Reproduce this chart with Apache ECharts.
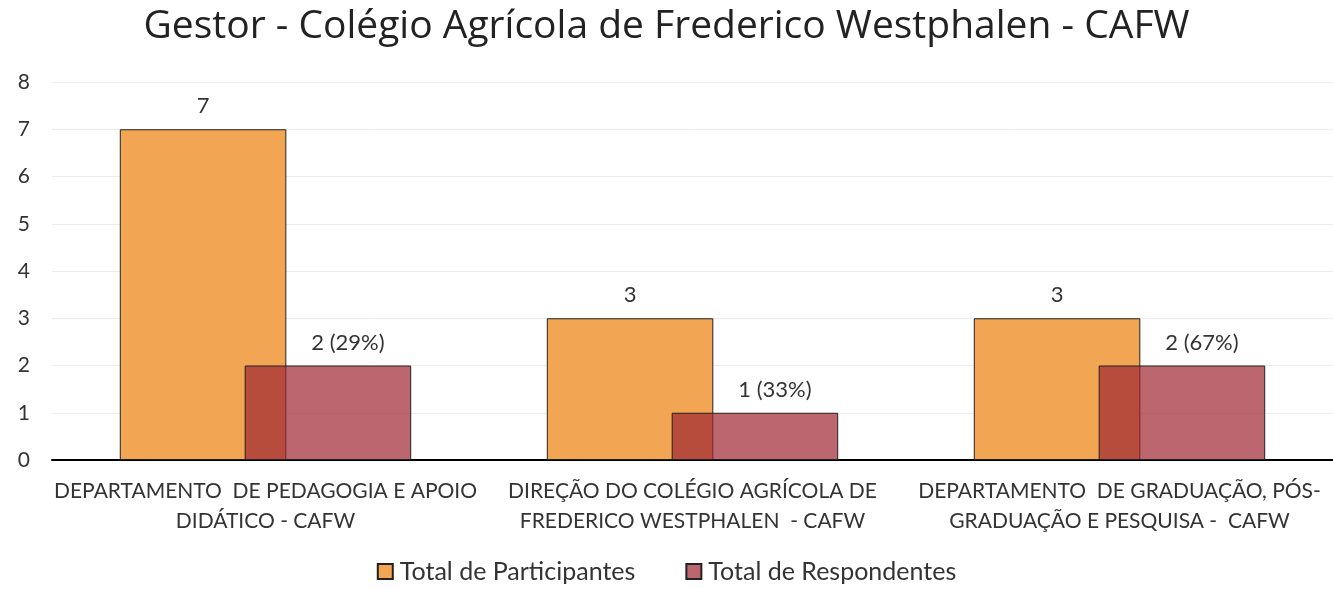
<!DOCTYPE html>
<html>
<head>
<meta charset="utf-8">
<script src="https://cdn.jsdelivr.net/npm/echarts@6/dist/echarts.min.js"></script>
<style>
html,body{margin:0;padding:0;background:#fff;}
#chart{width:1333px;height:589px;}
</style>
</head>
<body>
<div id="chart"></div>
<script>
// dados do gráfico
var categorias = [
    'DEPARTAMENTO  DE PEDAGOGIA E APOIO\nDIDÁTICO - CAFW',
    'DIREÇÃO DO COLÉGIO AGRÍCOLA DE\nFREDERICO WESTPHALEN  - CAFW',
    'DEPARTAMENTO  DE GRADUAÇÃO, PÓS-\nGRADUAÇÃO E PESQUISA -  CAFW'
];
var participantes = [7, 3, 3];
var respondentes = [2, 1, 2];
var ticksY = [0, 1, 2, 3, 4, 5, 6, 7, 8];

var fonte = 'Lato, "Open Sans", sans-serif';
var myChart = echarts.init(document.getElementById('chart'));
var option = {
    title: {
        text: 'Gestor - Colégio Agrícola de Frederico Westphalen - CAFW',
        left: 'center',
        top: 2,
        textStyle: { fontFamily: '"Open Sans", sans-serif', fontSize: 39, fontWeight: 'normal', color: '#222' }
    },
    legend: {
        bottom: 0,
        left: 'center',
        itemGap: 50,
        itemWidth: 15,
        itemHeight: 15,
        icon: 'rect',
        textStyle: { fontFamily: fonte, fontSize: 25, color: '#333', padding: [0, 0, 0, 2] },
        data: ['Total de Participantes', 'Total de Respondentes']
    },
    grid: { left: 52, right: 0, top: 82, bottom: 129 },
    xAxis: {
        type: 'category',
        data: categorias,
        axisLine: { lineStyle: { color: '#000', width: 2 } },
        axisTick: { show: false },
        axisLabel: { interval: 0, fontFamily: fonte, fontSize: 21, color: '#333', lineHeight: 30, margin: 16 }
    },
    yAxis: {
        type: 'value',
        min: ticksY[0],
        max: ticksY[ticksY.length - 1],
        interval: 1,
        axisLine: { show: false },
        axisTick: { show: false },
        axisLabel: { fontFamily: fonte, fontSize: 21, color: '#333', margin: 22 },
        splitLine: { lineStyle: { color: '#ececec', width: 1 } }
    },
    series: [
        {
            name: 'Total de Participantes',
            type: 'bar',
            data: participantes,
            barWidth: '39%',
            barGap: '-25%',
            itemStyle: { color: '#F2A552', borderColor: '#222', borderWidth: 1 },
            label: {
                show: true, position: 'top', distance: 12,
                fontFamily: fonte, fontSize: 22, color: '#333'
            }
        },
        {
            name: 'Total de Respondentes',
            type: 'bar',
            data: respondentes,
            barWidth: '39%',
            itemStyle: { color: 'rgba(159,39,51,0.7)', borderColor: '#222', borderWidth: 1 },
            label: {
                show: true, position: 'top', distance: 12, offset: [20, 0],
                fontFamily: fonte, fontSize: 22, color: '#333',
                formatter: function (p) {
                    var pct = Math.round(p.value / participantes[p.dataIndex] * 100);
                    return p.value + ' (' + pct + '%)';
                }
            }
        }
    ]
};
myChart.setOption(option);
</script>
</body>
</html>
